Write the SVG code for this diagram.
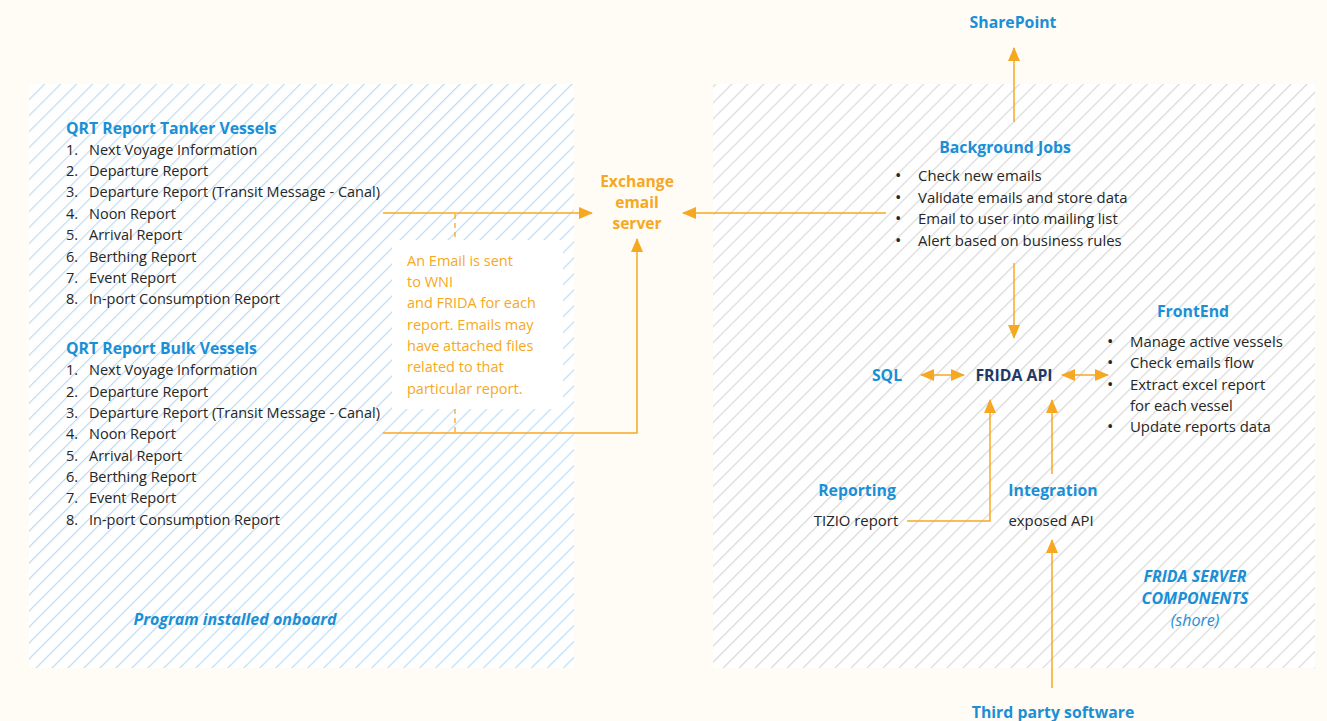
<svg xmlns="http://www.w3.org/2000/svg" width="1327" height="721" viewBox="0 0 1327 721">
<defs>
<pattern id="hatchBlue" width="11.3" height="11.3" patternUnits="userSpaceOnUse" patternTransform="rotate(45)">
<rect width="11.3" height="11.3" fill="#ffffff"/>
<line x1="0.6" y1="0" x2="0.6" y2="11.3" stroke="#bcdcf5" stroke-width="1.2"/>
</pattern>
<pattern id="hatchGrey" width="11.3" height="11.3" patternUnits="userSpaceOnUse" patternTransform="rotate(45)">
<rect width="11.3" height="11.3" fill="#ffffff"/>
<line x1="0.6" y1="0" x2="0.6" y2="11.3" stroke="#d9d9d9" stroke-width="1.2"/>
</pattern>
<marker id="arr" viewBox="0 0 14 12" refX="13" refY="6" markerWidth="14" markerHeight="12" markerUnits="userSpaceOnUse" orient="auto-start-reverse">
<path d="M0,0 L14,6 L0,12 Z" fill="#f7a823"/>
</marker>
<style>
text{font-family:"Open Sans","Noto Sans","DejaVu Sans",sans-serif;font-size:14.5px;fill:#262626}
.r{font-size:14.9px}
.h{font-weight:bold;font-size:15.8px;fill:#1b8fd6}
.o{fill:#f7a823}
.ob{font-weight:bold;font-size:15.6px;fill:#f7a823}
.bi{font-weight:bold;font-style:italic;font-size:16px;fill:#1b8fd6}
.i{font-style:italic;font-size:16px;fill:#1b8fd6}
.api{font-weight:bold;font-size:15.8px;fill:#1f3864}
.b{font-size:17px}
.c{fill:none;stroke:#f7a823;stroke-width:1.5}
.d{fill:none;stroke:#f7a823;stroke-width:1.3;stroke-dasharray:5,4}
</style>
</defs>
<rect width="1327" height="721" fill="#fffcf5"/>
<rect id="onboard-area" x="29" y="84" width="545" height="584" fill="url(#hatchBlue)"/>
<rect id="server-area" x="713" y="84" width="602" height="584" fill="url(#hatchGrey)"/>

<g id="connectors">
<line class="c" x1="383" y1="213" x2="592" y2="213" marker-end="url(#arr)"/>
<polyline class="c" points="383,433 637,433 637,239" marker-end="url(#arr)"/>
<line class="c" x1="886" y1="213" x2="683" y2="213" marker-end="url(#arr)"/>
<line class="d" x1="455" y1="214" x2="455" y2="240"/>
<line class="d" x1="455" y1="409" x2="455" y2="432"/>
<line class="c" x1="1014" y1="122" x2="1014" y2="48" marker-end="url(#arr)"/>
<line class="c" x1="1014" y1="263" x2="1014" y2="338" marker-end="url(#arr)"/>
<line class="c" x1="921" y1="375" x2="964" y2="375" marker-start="url(#arr)" marker-end="url(#arr)"/>
<line class="c" x1="1062" y1="375" x2="1108" y2="375" marker-start="url(#arr)" marker-end="url(#arr)"/>
<polyline class="c" points="907,521 990,521 990,400" marker-end="url(#arr)"/>
<line class="c" x1="1052" y1="474" x2="1052" y2="400" marker-end="url(#arr)"/>
<line class="c" x1="1052" y1="688" x2="1052" y2="540" marker-end="url(#arr)"/>
</g>

<g id="tanker">
<text class="h" x="66" y="134">QRT Report Tanker Vessels</text>
<text x="66" y="155">1.</text><text x="89" y="155">Next Voyage Information</text>
<text x="66" y="176">2.</text><text x="89" y="176">Departure Report</text>
<text x="66" y="197">3.</text><text x="89" y="197">Departure Report (Transit Message - Canal)</text>
<text x="66" y="219">4.</text><text x="89" y="219">Noon Report</text>
<text x="66" y="240">5.</text><text x="89" y="240">Arrival Report</text>
<text x="66" y="262">6.</text><text x="89" y="262">Berthing Report</text>
<text x="66" y="283">7.</text><text x="89" y="283">Event Report</text>
<text x="66" y="304">8.</text><text x="89" y="304">In-port Consumption Report</text>
</g>

<g id="bulk">
<text class="h" x="66" y="354">QRT Report Bulk Vessels</text>
<text x="66" y="375">1.</text><text x="89" y="375">Next Voyage Information</text>
<text x="66" y="397">2.</text><text x="89" y="397">Departure Report</text>
<text x="66" y="418">3.</text><text x="89" y="418">Departure Report (Transit Message - Canal)</text>
<text x="66" y="439">4.</text><text x="89" y="439">Noon Report</text>
<text x="66" y="461">5.</text><text x="89" y="461">Arrival Report</text>
<text x="66" y="482">6.</text><text x="89" y="482">Berthing Report</text>
<text x="66" y="503">7.</text><text x="89" y="503">Event Report</text>
<text x="66" y="525">8.</text><text x="89" y="525">In-port Consumption Report</text>
</g>

<g id="onboard-label">
<text class="bi" x="235" y="625" text-anchor="middle">Program installed onboard</text>
</g>

<g id="note">
<rect x="392" y="240" width="171" height="169" fill="#ffffff"/>
<text class="o" x="407" y="266">An Email is sent</text>
<text class="o" x="407" y="287">to WNI</text>
<text class="o" x="407" y="308">and FRIDA for each</text>
<text class="o" x="407" y="330">report. Emails may</text>
<text class="o" x="407" y="351">have attached files</text>
<text class="o" x="407" y="372">related to that</text>
<text class="o" x="407" y="394">particular report.</text>
</g>

<g id="exchange">
<text class="ob" x="637" y="187" text-anchor="middle">Exchange</text>
<text class="ob" x="637" y="208" text-anchor="middle">email</text>
<text class="ob" x="637" y="229" text-anchor="middle">server</text>
</g>

<g id="sharepoint">
<text class="h" x="1013" y="28" text-anchor="middle">SharePoint</text>
</g>

<g id="background-jobs">
<text class="h" x="1005" y="153" text-anchor="middle">Background Jobs</text>
<text class="b" x="895" y="181">•</text><text class="r" x="918" y="181">Check new emails</text>
<text class="b" x="895" y="203">•</text><text class="r" x="918" y="203">Validate emails and store data</text>
<text class="b" x="895" y="224">•</text><text class="r" x="918" y="224">Email to user into mailing list</text>
<text class="b" x="895" y="246">•</text><text class="r" x="918" y="246">Alert based on business rules</text>
</g>

<g id="frida-api">
<text class="api" x="1014" y="381" text-anchor="middle">FRIDA API</text>
</g>

<g id="sql">
<text class="h" x="887" y="381" text-anchor="middle">SQL</text>
</g>

<g id="frontend">
<text class="h" x="1193" y="317" text-anchor="middle">FrontEnd</text>
<text class="b" x="1107" y="347">•</text><text class="r" x="1130" y="347">Manage active vessels</text>
<text class="b" x="1107" y="368">•</text><text class="r" x="1130" y="368">Check emails flow</text>
<text class="b" x="1107" y="390">•</text><text class="r" x="1130" y="390">Extract excel report</text>
<text class="r" x="1130" y="411">for each vessel</text>
<text class="b" x="1107" y="432">•</text><text class="r" x="1130" y="432">Update reports data</text>
</g>

<g id="reporting">
<text class="h" x="857" y="496" text-anchor="middle">Reporting</text>
<text class="r" x="856" y="526" text-anchor="middle">TIZIO report</text>
</g>

<g id="integration">
<text class="h" x="1053" y="496" text-anchor="middle">Integration</text>
<text class="r" x="1051" y="526" text-anchor="middle">exposed API</text>
</g>

<g id="server-label">
<text class="bi" x="1195" y="582" text-anchor="middle">FRIDA SERVER</text>
<text class="bi" x="1195" y="604" text-anchor="middle">COMPONENTS</text>
<text class="i" x="1195" y="626" text-anchor="middle">(shore)</text>
</g>

<g id="third-party">
<text class="h" x="1053" y="718" text-anchor="middle">Third party software</text>
</g>
</svg>
